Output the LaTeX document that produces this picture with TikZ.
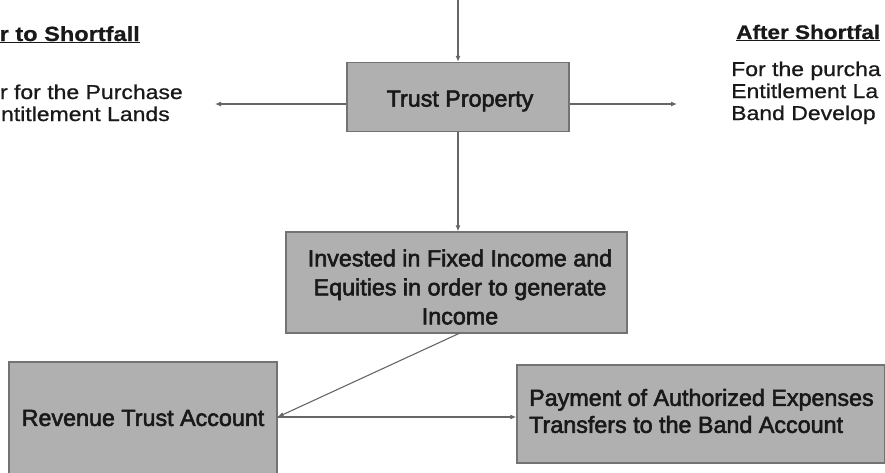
\documentclass[tikz,border=0pt]{standalone}
\usepackage{fontspec}
\setmainfont{Liberation Sans}
\newfontfamily\boxfont{Liberation Sans}[FakeBold=2.4]
\newfontfamily\sidefont{Liberation Sans}[FakeStretch=1.15, FakeBold=0.8]
\usetikzlibrary{arrows.meta}
\tikzset{
  gbox/.style={draw=black!55, line width=1.4pt, fill=black!31, inner sep=0pt},
  boxtext/.style={inner sep=0pt, align=center, font=\boxfont\fontsize{23.3}{29}\selectfont, text=black!90},
  arr/.style={draw=black!60, line width=1.1pt, -{Latex[length=6pt,width=5pt]}},
  side/.style={inner sep=0pt, font=\sidefont\fontsize{20}{22}\selectfont, text=black!90},
  sidetitle/.style={inner sep=0pt, font=\sidefont\bfseries\fontsize{20.5}{24}\selectfont, text=black!90},
}
\begin{document}
\begin{tikzpicture}[x=1pt,y=-1pt]
\useasboundingbox (0,0) rectangle (885,472);
% boxes
\node[gbox, minimum width=222pt, minimum height=69pt] (trust) at (458,97) {};
\node[boxtext] (trusttxt) at (460,101) {Trust Property};
\node[gbox, minimum width=341pt, minimum height=101pt] (invest) at (456.5,282.5) {};
\node[boxtext] (investtxt) at (460,287) {Invested in Fixed Income and\\Equities in order to generate\\Income};
\node[gbox, minimum width=268pt, minimum height=114pt] (rev) at (143,419) {};
\node[boxtext] (revtxt) at (143,418) {Revenue Trust Account};
\node[gbox, minimum width=368pt, minimum height=98pt] (pay) at (701,414) {};
\node[boxtext, anchor=west, align=left, font=\boxfont\fontsize{23.3}{27}\selectfont]
  (paytxt) at (529,411) {Payment of Authorized Expenses\\Transfers to the Band Account};
% side texts left
\node[sidetitle, anchor=base east] (ltitle) at (140,41) {\underline{r to Shortfall}};
\node[side, anchor=base east] (l1) at (183,99) {r for the Purchase};
\node[side, anchor=base east] (l2) at (170,121) {ntitlement Lands};
% side texts right
\node[sidetitle, anchor=base west, font=\sidefont\bfseries\fontsize{19.6}{24}\selectfont] (rtitle) at (736,39) {\underline{After Shortfal}};
\node[side, anchor=base west] (r1) at (731,76) {For the purcha};
\node[side, anchor=base west] (r2) at (731,98) {Entitlement La};
\node[side, anchor=base west] (r3) at (731,120) {Band Develop};
% connectors
\coordinate (topin) at (458,-2);
\coordinate (lend) at (215,104);
\coordinate (rend) at (677,104);
\coordinate (invbot) at (460,333);
\draw[arr] (topin) -- (trust.north);
\draw[arr] (trust.west |- lend) -- (lend);
\draw[arr] (trust.east |- rend) -- (rend);
\draw[arr] (trust.south) -- (trust.south |- invest.north);
\draw[arr] (invbot) -- (rev.east |- 0,417);
\draw[arr] (rev.east |- 0,417) -- (pay.west |- 0,417);
\end{tikzpicture}
\end{document}
